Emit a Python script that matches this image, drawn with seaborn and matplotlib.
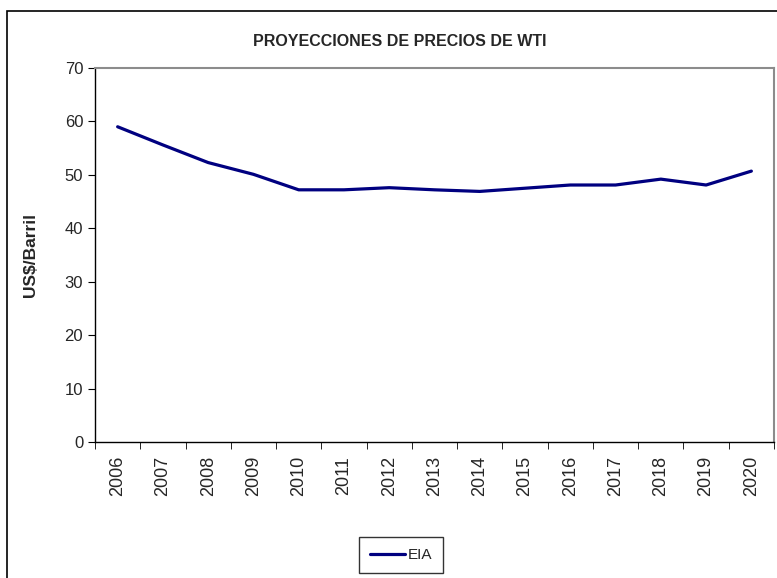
import pandas as pd
import seaborn as sns
import matplotlib.pyplot as plt
from matplotlib.patches import Rectangle

years = [str(y) for y in range(2006, 2021)]
eia = [59.0, 55.6, 52.3, 50.1, 47.2, 47.2, 47.6, 47.2, 46.9, 47.5, 48.1, 48.1, 49.2, 48.1, 50.7]

df = pd.DataFrame({"pos": range(len(years)), "EIA": eia})

sns.set_style("white")
plt.rcParams['font.family'] = ['Liberation Sans', 'DejaVu Sans']

fig = plt.figure(figsize=(7.77, 5.78), dpi=100)
ax = fig.add_axes([95/777, 1-442/578, (774-95)/777, (442-68)/578])

sns.lineplot(data=df, x="pos", y="EIA", color="#000080", linewidth=2.3, ax=ax, label="EIA")

ax.set_xlim(-0.5, len(years) - 0.5)
ax.set_ylim(0, 70)
ax.set_yticks(range(0, 71, 10))
ax.set_xticks(range(len(years)))
ax.set_xticklabels(years, rotation=90, fontsize=13)
ax.set_xticks([i - 0.5 for i in range(len(years) + 1)], minor=True)
ax.tick_params(axis="x", which="major", length=0, pad=10)
ax.tick_params(axis="x", which="minor", length=5, direction="out", color="black", bottom=True)
ax.tick_params(axis="y", length=5, direction="out", color="black", left=True, labelsize=12)
ax.set_xlabel("")
ax.set_ylabel("US$/Barril", fontsize=12.5, fontweight="bold", labelpad=19)

for s in ["top", "right"]:
    ax.spines[s].set_color("#8c8c8c")
    ax.spines[s].set_linewidth(1.5)
for s in ["left", "bottom"]:
    ax.spines[s].set_color("black")
    ax.spines[s].set_linewidth(1.0)

fig.text(400/777, 1-42/578, "PROYECCIONES DE PRECIOS DE WTI", ha="center", va="center",
         fontsize=11.5, fontweight="bold", family=['Liberation Sans Narrow', 'Liberation Sans'])

leg = ax.legend(loc="center", bbox_to_anchor=(401/777, 1-555/578), bbox_transform=fig.transFigure,
                frameon=True, fancybox=False, fontsize=11, handlelength=2.3, handletextpad=0.2,
                borderpad=0.7)
leg.get_frame().set_edgecolor("black")
leg.get_frame().set_linewidth(1.0)

fig.patches.append(Rectangle((7/777, -0.05), 1.2, (578-11)/578 + 0.05, transform=fig.transFigure,
                             fill=False, edgecolor="black", linewidth=1.2))

fig.savefig("out.png", dpi=100)
